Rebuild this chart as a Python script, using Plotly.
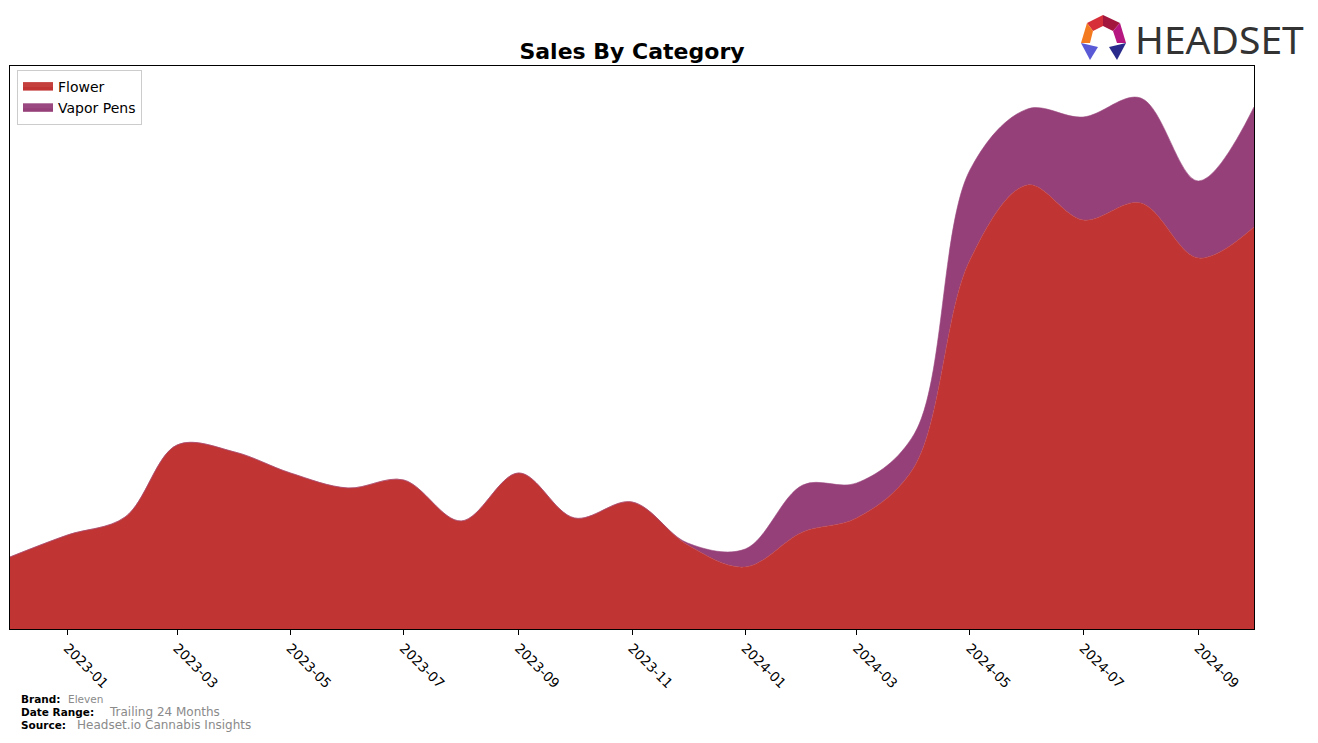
import plotly.graph_objects as go

months = ["2022-12-01", "2023-01-01", "2023-02-01", "2023-03-01", "2023-04-01", "2023-05-01",
          "2023-06-01", "2023-07-01", "2023-08-01", "2023-09-01", "2023-10-01", "2023-11-01",
          "2023-12-01", "2024-01-01", "2024-02-01", "2024-03-01", "2024-04-01", "2024-05-01",
          "2024-06-01", "2024-07-01", "2024-08-01", "2024-09-01", "2024-10-01"]
flower = [72, 94, 112, 184, 177, 156, 141, 149, 108, 156, 111, 127,
          84, 62, 97, 111, 162, 369, 444, 409, 426, 371, 402]
vapor_pens = [0, 0, 0, 0, 0, 0, 0, 0, 0, 0, 0, 0,
              2, 18, 47, 35, 33, 90, 76, 103, 105, 77, 120]
tick_vals = ["2023-01-01", "2023-03-01", "2023-05-01", "2023-07-01", "2023-09-01", "2023-11-01",
             "2024-01-01", "2024-03-01", "2024-05-01", "2024-07-01", "2024-09-01"]
tick_text = ["2023-01", "2023-03", "2023-05", "2023-07", "2023-09", "2023-11",
             "2024-01", "2024-03", "2024-05", "2024-07", "2024-09"]

OFF = 8  # page body margin
W, H = 1318 - OFF, 743 - OFF
# plot area in screen pixels
L, R, T, B = 10, 1254, 66, 629


def px(x, y):
    return (x - L) / (R - L), (B - y) / (B - T)


fig = go.Figure()
fig.add_trace(go.Scatter(x=months, y=flower, name="Flower", stackgroup="one",
                         mode="lines", line=dict(shape="spline", smoothing=1.0, width=0.6, color="#c4403c"),
                         fillcolor="#c13434"))
fig.add_trace(go.Scatter(x=months, y=vapor_pens, name="Vapor Pens", stackgroup="one",
                         mode="lines", line=dict(shape="spline", smoothing=1.0, width=0.6, color="#9a4a80"),
                         fillcolor="#96407a"))

shapes = []
logo_polys = [
    ("#d62f3a", [(1103, 15), (1087, 23), (1093, 31), (1103, 26)]),
    ("#a3173f", [(1103, 15), (1120, 23), (1113, 31), (1103, 26)]),
    ("#f47a20", [(1087, 23), (1081, 43), (1090, 43), (1093, 31)]),
    ("#b5167f", [(1120, 23), (1126, 43), (1117, 43), (1113, 31)]),
    ("#5a5ad6", [(1081, 43), (1098, 47), (1090, 60)]),
    ("#2a2a8c", [(1126, 43), (1109, 47), (1117, 60)]),
]
for col, pts in logo_polys:
    path = ""
    for i, (x, y) in enumerate(pts):
        xp, yp = px(x, y)
        path += ("M" if i == 0 else "L") + f"{xp:.5f},{yp:.5f} "
    path += "Z"
    shapes.append(dict(type="path", xref="paper", yref="paper", path=path,
                       fillcolor=col, line=dict(width=0)))

annotations = []
hx, hy = px(1133, 38)
annotations.append(dict(text="HEADSET", x=hx, y=hy, xref="paper", yref="paper",
                        showarrow=False, xanchor="left", yanchor="middle",
                        font=dict(family="Noto Sans", size=39, color="#333333")))
footer = [("Brand:", "Eleven", 699, 66, 10.5), ("Date Range:", "Trailing 24 Months", 712, 107, 12),
          ("Source:", "Headset.io Cannabis Insights", 725, 75, 12)]
for lab, val, y, vx, vs in footer:
    x0, y0 = px(19, y)
    annotations.append(dict(text=f"<b>{lab}</b>", x=x0, y=y0, xref="paper", yref="paper",
                            showarrow=False, xanchor="left", yanchor="middle",
                            font=dict(family="DejaVu Sans", size=10.5, color="black")))
    x1, y1 = px(vx, y)
    annotations.append(dict(text=val, x=x1, y=y1, xref="paper", yref="paper",
                            showarrow=False, xanchor="left", yanchor="middle",
                            font=dict(family="DejaVu Sans", size=vs, color="#8a8a8a")))

fig.update_layout(
    width=W, height=H,
    margin=dict(l=L - OFF, r=W - (R - OFF), t=T - OFF, b=H - (B - OFF)),
    paper_bgcolor="white", plot_bgcolor="white",
    title=dict(text="<b>Sales By Category</b>", x=(632 - OFF) / W, xanchor="center",
               y=1 - (51 - OFF) / H, yanchor="middle",
               font=dict(family="DejaVu Sans", size=22, color="black")),
    font=dict(family="DejaVu Sans", color="black"),
    showlegend=True,
    legend=dict(x=px(17, 0)[0], y=px(0, 70)[1], xanchor="left", yanchor="top",
                bordercolor="#cccccc", borderwidth=1, bgcolor="white",
                font=dict(family="DejaVu Sans", size=14, color="black"),
                traceorder="normal", itemsizing="constant"),
    xaxis=dict(type="date", range=["2022-12-01", "2024-10-01"],
               tickvals=tick_vals, ticktext=tick_text, tickangle=45,
               ticks="outside", ticklen=5, tickcolor="black",
               tickfont=dict(family="DejaVu Sans", size=13.5, color="black"),
               showline=True, linecolor="black", linewidth=1, mirror=True,
               showgrid=False, zeroline=False),
    yaxis=dict(range=[0, B - T], showticklabels=False, ticks="",
               showline=True, linecolor="black", linewidth=1, mirror=True,
               showgrid=False, zeroline=False),
    shapes=shapes,
    annotations=annotations,
)

fig.write_html("out.html")
